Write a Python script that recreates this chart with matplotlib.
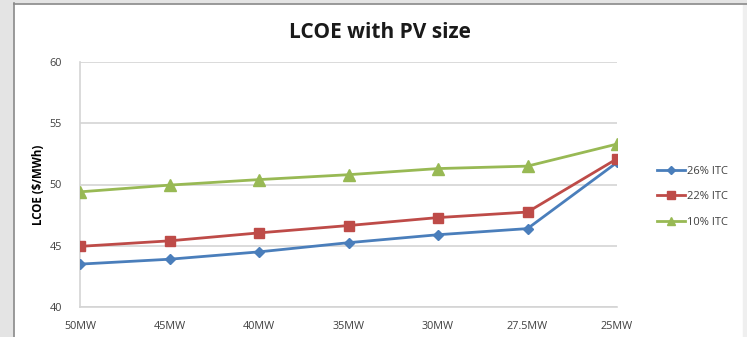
import matplotlib
matplotlib.use("Agg")
import matplotlib.pyplot as plt
from matplotlib.patches import Rectangle
from matplotlib.lines import Line2D

categories = ["50MW", "45MW", "40MW", "35MW", "30MW", "27.5MW", "25MW"]
itc26 = [43.5, 43.9, 44.5, 45.25, 45.9, 46.4, 51.8]
itc22 = [44.95, 45.4, 46.05, 46.65, 47.3, 47.75, 52.1]
itc10 = [49.4, 49.95, 50.4, 50.8, 51.3, 51.5, 53.3]
series_names = ["26% ITC", "22% ITC", "10% ITC"]
y_ticks = [40, 45, 50, 55, 60]

plt.rcParams['font.family'] = ['Open Sans', 'DejaVu Sans']

W, H = 747, 337
fig = plt.figure(figsize=(W / 100, H / 100), dpi=100)
fig.patch.set_facecolor("white")

# window-like frame
fig.add_artist(Rectangle((0, 0), 13 / W, 1, transform=fig.transFigure, color="#e4e4e4", zorder=0))
fig.add_artist(Rectangle((743 / W, 0), 4 / W, 1, transform=fig.transFigure, color="#efefef", zorder=0))
fig.add_artist(Rectangle((0, 1 - 3 / H), 1, 3 / H, transform=fig.transFigure, color="#e4e4e4", zorder=0))
fig.add_artist(Line2D([14 / W, 14 / W], [0, 1 - 3 / H], transform=fig.transFigure, color="#8a8a8a", lw=1.2))
fig.add_artist(Line2D([14 / W, 1], [1 - 4 / H, 1 - 4 / H], transform=fig.transFigure, color="#8a8a8a", lw=1.2))

ax = fig.add_axes([80 / W, 30 / H, 537 / W, 245 / H])
x = list(range(len(categories)))
ax.plot(x, itc26, color="#4a7ebb", lw=2, marker="D", ms=5.5, label=series_names[0], zorder=3)
ax.plot(x, itc22, color="#be4b48", lw=2, marker="s", ms=7, label=series_names[1], zorder=3)
ax.plot(x, itc10, color="#98b954", lw=2, marker="^", ms=8, label=series_names[2], zorder=3)

ax.set_xlim(0, len(categories) - 1)
ax.set_ylim(40, 60)
ax.set_yticks(y_ticks)
ax.set_xticks(x)
ax.set_xticklabels(categories)
ax.tick_params(length=0, labelsize=7.8, labelcolor="#404040")
ax.tick_params(axis="x", pad=10)
ax.tick_params(axis="y", pad=13)
ax.yaxis.grid(True, color="#d4d4d4", lw=1.2)
ax.set_axisbelow(True)
for s in ["top", "right"]:
    ax.spines[s].set_visible(False)
ax.spines["left"].set_color("#d4d4d4")
ax.spines["bottom"].set_color("#d4d4d4")
ax.spines["left"].set_linewidth(1.2)
ax.spines["bottom"].set_linewidth(1.2)

ax.set_ylabel("LCOE ($/MWh)", fontsize=8.3, fontweight="bold", labelpad=3)
fig.text(380 / W, 1 - 32 / H, "LCOE with PV size", ha="center", va="center",
         fontsize=15, fontweight="bold", color="#1a1a1a")

leg = ax.legend(loc="center left", bbox_to_anchor=(1.055, 0.45), frameon=False,
                fontsize=8, handlelength=2.6, handletextpad=0.1, labelspacing=1.3,
                markerscale=0.75)
for t in leg.get_texts():
    t.set_color("#404040")

fig.savefig("out.png", dpi=100)
